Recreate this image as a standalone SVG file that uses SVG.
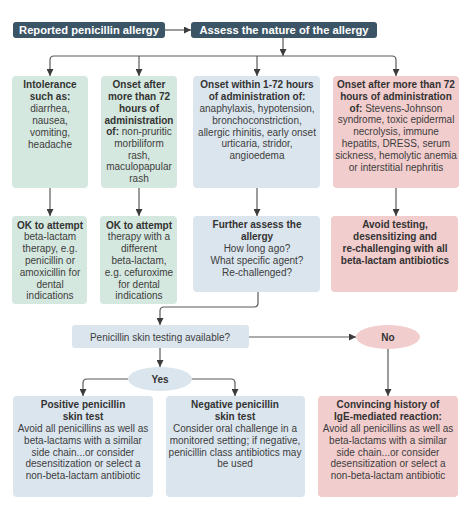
<svg xmlns="http://www.w3.org/2000/svg" width="474" height="508" viewBox="0 0 474 508">
<defs>
<marker id="ah" viewBox="0 0 10 10" refX="10" refY="5" markerWidth="7" markerHeight="7" markerUnits="userSpaceOnUse" orient="auto">
<path d="M0,0 L10,5 L0,10 z" fill="#3b3b3b"/>
</marker>
<style>
text{font-family:"Liberation Sans",Arial,sans-serif;font-size:10px;fill:#3d3d3d;text-anchor:middle}
.b{font-weight:bold;fill:#333}
.top{font-weight:bold;font-size:11.2px;fill:#fff}
.dk{fill:#3c5566}
.gr{fill:#d5e8df}
.bl{fill:#dbe5ee}
.pk{fill:#f2cdcd}
.c{fill:none;stroke:#5a5a5a;stroke-width:1.2;marker-end:url(#ah)}
.l{fill:none;stroke:#5a5a5a;stroke-width:1.2}
</style>
</defs>
<rect width="474" height="508" fill="#fff"/>
<g id="connectors">
<path class="c" d="M165,30 H191"/>
<path class="c" d="M283,38 V56"/>
<path class="c" d="M54,56 Q50,56 50,60 V76"/>
<path class="l" d="M54,56 H392"/>
<path class="c" d="M392,56 Q396,56 396,60 V76"/>
<path class="c" d="M139,56 V76"/>
<path class="c" d="M257,56 V76"/>
<path class="c" d="M50,188 V216"/>
<path class="c" d="M139,188 V216"/>
<path class="c" d="M257,188 V216"/>
<path class="c" d="M396,188 V216"/>
<path class="c" d="M258,292 V303 Q258,307 254,307 H164 Q160,307 160,311 V325"/>
<path class="c" d="M249,337 H356"/>
<path class="c" d="M160,348 V367"/>
<path class="c" d="M388,349 V396"/>
<path class="c" d="M128,379 H87 Q83,379 83,383 V396"/>
<path class="c" d="M191,379 H231 Q235,379 235,383 V396"/>
</g>
<g id="reported">
<rect class="dk" x="13" y="22" width="152" height="16" rx="3"/>
<text class="top" x="89" y="34">Reported penicillin allergy</text>
</g>
<g id="assess">
<rect class="dk" x="191" y="22" width="186" height="16" rx="3"/>
<text class="top" x="284" y="34">Assess the nature of the allergy</text>
</g>
<g id="intolerance">
<rect class="gr" x="12" y="76" width="76" height="112" rx="4"/>
<text class="b" x="50" y="87.5">Intolerance</text>
<text class="b" x="50" y="99.5">such as:</text>
<text x="50" y="111.5">diarrhea,</text>
<text x="50" y="123.5">nausea,</text>
<text x="50" y="135.5">vomiting,</text>
<text x="50" y="147.5">headache</text>
</g>
<g id="onset72">
<rect class="gr" x="101" y="76" width="76" height="112" rx="4"/>
<text class="b" x="139" y="87.5">Onset after</text>
<text class="b" x="139" y="99.5">more than 72</text>
<text class="b" x="139" y="111.5">hours of</text>
<text class="b" x="139" y="123.5">administration</text>
<text x="139" y="135"><tspan class="b">of:</tspan> non-pruritic</text>
<text x="139" y="146.8">morbiliform</text>
<text x="139" y="158.6">rash,</text>
<text x="139" y="170.4">maculopapular</text>
<text x="139" y="182.2">rash</text>
</g>
<g id="onset1to72">
<rect class="bl" x="193" y="76" width="127" height="112" rx="4"/>
<text class="b" x="257" y="87.5">Onset within 1-72 hours</text>
<text class="b" x="257" y="99.5">of administration of:</text>
<text x="257" y="111.5">anaphylaxis, hypotension,</text>
<text x="257" y="123.5">bronchoconstriction,</text>
<text x="257" y="135.5">allergic rhinitis, early onset</text>
<text x="257" y="147.3">urticaria, stridor,</text>
<text x="257" y="159">angioedema</text>
</g>
<g id="onsetsevere">
<rect class="pk" x="333" y="76" width="126" height="112" rx="4"/>
<text class="b" x="396" y="87.5">Onset after more than 72</text>
<text class="b" x="396" y="99.5">hours of administration</text>
<text x="396" y="111.5"><tspan class="b">of:</tspan>  Stevens-Johnson</text>
<text x="396" y="123.3">syndrome, toxic epidermal</text>
<text x="396" y="135.1">necrolysis, immune</text>
<text x="396" y="146.9">hepatits, DRESS, serum</text>
<text x="396" y="158.7">sickness, hemolytic anemia</text>
<text x="396" y="170.5">or interstitial nephritis</text>
</g>
<g id="ok1">
<rect class="gr" x="12" y="216" width="75" height="88" rx="4"/>
<text class="b" x="50" y="228.5">OK to attempt</text>
<text x="50" y="240.3">beta-lactam</text>
<text x="50" y="252.1">therapy, e.g.</text>
<text x="50" y="263.9">penicillin or</text>
<text x="50" y="275.7">amoxicillin for</text>
<text x="50" y="287.5">dental</text>
<text x="50" y="299.3">indications</text>
</g>
<g id="ok2">
<rect class="gr" x="100" y="216" width="77" height="88" rx="4"/>
<text class="b" x="139" y="228.5">OK to attempt</text>
<text x="139" y="240.3">therapy with a</text>
<text x="139" y="252.1">different</text>
<text x="139" y="263.9">beta-lactam,</text>
<text x="139" y="275.7">e.g. cefuroxime</text>
<text x="139" y="287.5">for dental</text>
<text x="139" y="299.3">indications</text>
</g>
<g id="further">
<rect class="bl" x="193" y="216" width="127" height="76" rx="4"/>
<text class="b" x="257" y="227.5">Further assess the</text>
<text class="b" x="257" y="239.5">allergy</text>
<text x="257" y="251.5">How long ago?</text>
<text x="257" y="263.5">What specific agent?</text>
<text x="257" y="275.5">Re-challenged?</text>
</g>
<g id="avoid">
<rect class="pk" x="331" y="216" width="127" height="76" rx="4"/>
<text class="b" x="395" y="227.5">Avoid testing,</text>
<text class="b" x="395" y="239.5">desensitizing and</text>
<text class="b" x="395" y="251.5">re-challenging with all</text>
<text class="b" x="395" y="263.5">beta-lactam antibiotics</text>
</g>
<g id="skintest">
<rect class="bl" x="72" y="325" width="177" height="23" rx="3"/>
<text x="160" y="340.5">Penicillin skin testing available?</text>
</g>
<g id="no">
<ellipse class="pk" cx="388" cy="337" rx="32" ry="12"/>
<text class="b" x="388" y="340.5">No</text>
</g>
<g id="yes">
<ellipse class="bl" cx="160" cy="379" rx="32" ry="12"/>
<text class="b" x="160" y="382.5">Yes</text>
</g>
<g id="positive">
<rect class="bl" x="13" y="396" width="140" height="101" rx="4"/>
<text class="b" x="83" y="407.5">Positive penicillin</text>
<text class="b" x="83" y="419.5">skin test</text>
<text x="83" y="431.5">Avoid all penicillins as well as</text>
<text x="83" y="443.5">beta-lactams with a similar</text>
<text x="83" y="455.5">side chain...or consider</text>
<text x="83" y="467.3">desensitization or select a</text>
<text x="83" y="479">non-beta-lactam antibiotic</text>
</g>
<g id="negative">
<rect class="bl" x="166" y="396" width="139" height="101" rx="4"/>
<text class="b" x="235" y="407.5">Negative penicillin</text>
<text class="b" x="235" y="419.5">skin test</text>
<text x="235" y="431.5">Consider oral challenge in a</text>
<text x="235" y="443.5">monitored setting; if negative,</text>
<text x="235" y="455.5">penicillin class antibiotics may</text>
<text x="235" y="467.3">be used</text>
</g>
<g id="convincing">
<rect class="pk" x="318" y="396" width="140" height="101" rx="4"/>
<text class="b" x="388" y="407.5">Convincing history of</text>
<text class="b" x="388" y="419.5">IgE-mediated reaction:</text>
<text x="388" y="431.5">Avoid all penicillins as well as</text>
<text x="388" y="443.5">beta-lactams with a similar</text>
<text x="388" y="455.5">side chain...or consider</text>
<text x="388" y="467.3">desensitization or select a</text>
<text x="388" y="479">non-beta-lactam antibiotic</text>
</g>
</svg>
